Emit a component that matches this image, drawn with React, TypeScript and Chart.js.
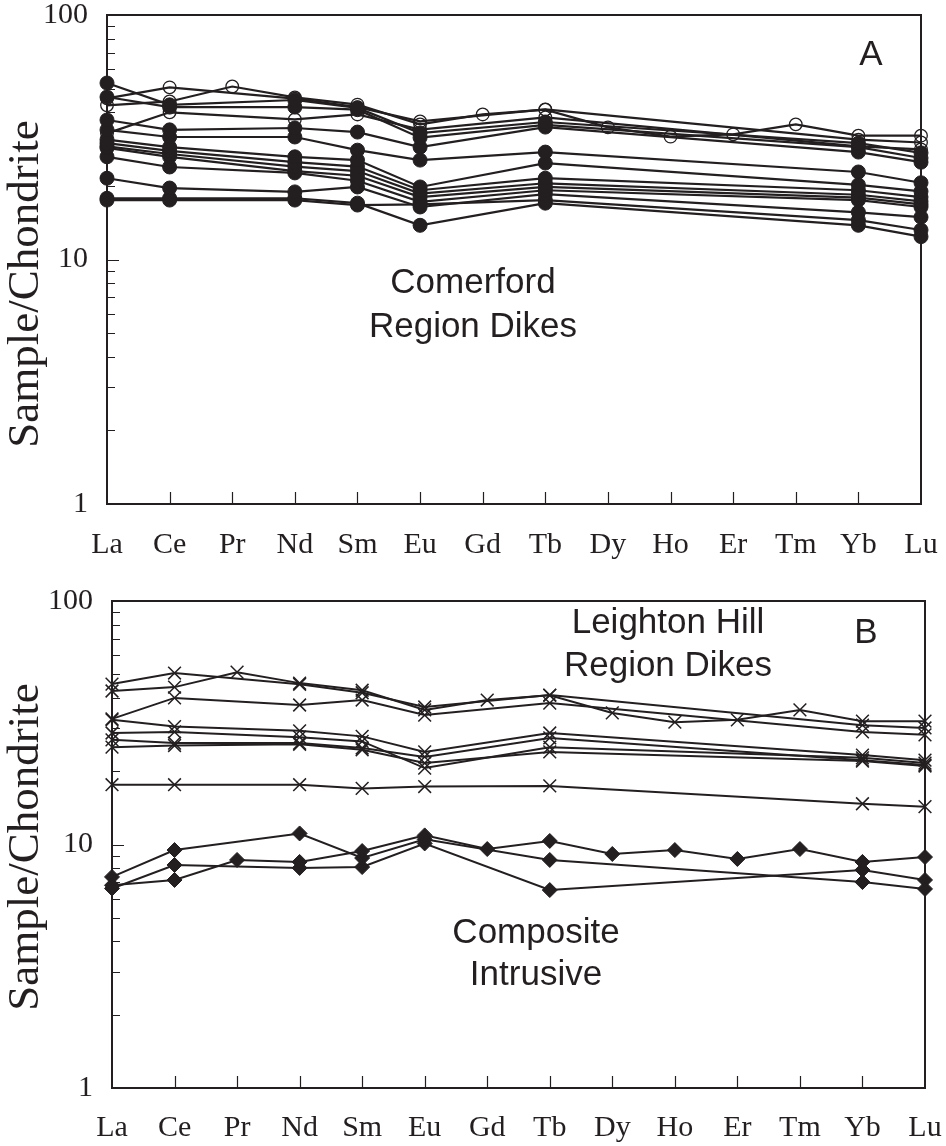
import React, { useEffect, useRef } from 'react';
import { Chart, registerables } from 'chart.js';

Chart.register(...registerables);

const INK = '#231f20';
const SERIF = '"Liberation Serif", "Times New Roman", serif';
const SANS = '"Liberation Sans", Arial, sans-serif';

const ELEMENTS = ['La', 'Ce', 'Pr', 'Nd', 'Sm', 'Eu', 'Gd', 'Tb', 'Dy', 'Ho', 'Er', 'Tm', 'Yb', 'Lu'];
// elements analysed for the partial (8-element) samples
const SPARSE = ['La', 'Ce', 'Nd', 'Sm', 'Eu', 'Tb', 'Yb', 'Lu'];
const Y_TICKS = [1, 10, 100];

// Panel A – Comerford region dikes (filled circles): La, Ce, Nd, Sm, Eu, Tb, Yb, Lu
const comerford1 = [52.7, 42.9, 44.9, 41.7, 32.9, 36.5, 29.9, 27.3];
const comerford2 = [46.2, 42.0, 42.0, 41.0, 31.5, 35.5, 28.8, 26.0];
const comerford3 = [37.2, 33.9, 34.5, 33.2, 28.8, 34.8, 27.5, 25.0];
const comerford4 = [33.9, 31.7, 31.7, 28.0, 25.5, 27.5, 22.8, 20.6];
const comerford5 = [30.9, 28.8, 26.3, 25.5, 19.8, 24.8, 20.2, 19.0];
const comerford6 = [29.9, 27.8, 25.0, 24.0, 19.2, 21.5, 19.2, 18.0];
const comerford7 = [29.0, 27.0, 24.0, 23.0, 18.6, 20.5, 18.4, 17.3];
const comerford8 = [28.6, 26.3, 23.0, 22.0, 18.0, 19.8, 17.9, 16.8];
const comerford9 = [26.3, 23.9, 22.6, 21.0, 17.2, 19.2, 17.5, 16.4];
const comerford10 = [21.5, 19.6, 18.9, 19.8, 16.4, 18.5, 15.6, 14.9];
const comerford11 = [17.5, 17.5, 17.5, 16.7, 16.8, 17.5, 14.5, 13.2];
const comerford12 = [17.8, 17.8, 17.8, 17.0, 13.8, 17.0, 13.8, 12.4];

// Leighton Hill region dikes (crosses in B; first three also open circles in A)
const leighton1 = [42.7, 44.3, 51.0, 46.0, 43.0, 35.7, 39.2, 41.0, 34.7, 31.8, 32.5, 35.7, 32.1, 32.1];
const leighton2 = [45.6, 50.6, 45.5, 42.0, 36.7, 41.1, 30.9, 30.1];
const leighton3 = [32.8, 40.0, 37.4, 39.2, 34.0, 38.1, 29.0, 28.2];
const leighton4 = [32.5, 30.5, 29.3, 27.8, 24.0, 28.7, 23.3, 22.2];
const leighton5 = [28.7, 29.0, 27.6, 26.5, 20.6, 25.1, 22.7, 21.6];
const leighton6 = [26.9, 26.1, 26.1, 24.9, 22.9, 27.4, 22.2, 21.2];
const leighton7 = [25.1, 25.5, 25.8, 24.5, 21.6, 24.0, 22.0, 21.0];
const leighton8 = [17.6, 17.6, 17.6, 17.0, 17.3, 17.4, 14.7, 14.3];

// Composite intrusive (filled diamonds in B)
const composite1 = [6.8, 7.15, 8.64, 8.48, 9.4, 10.9, 9.58, 10.34, 9.14, 9.49, 8.72, 9.58, 8.48, 8.88];
const composite2 = [7.36, 9.49, 11.1, 8.8, 10.5, 8.64, 7.01, 6.57];
const composite3 = [6.6, 8.24, 8.01, 8.08, 10.1, 6.5, 7.86, 7.15];

function expand(vals: number[]): (number | null)[] {
  if (vals.length === ELEMENTS.length) return vals;
  return ELEMENTS.map((e) => {
    const i = SPARSE.indexOf(e);
    return i < 0 ? null : vals[i];
  });
}

const baseLine = {
  borderColor: INK,
  borderWidth: 2.2,
  spanGaps: true,
  clip: false,
  tension: 0,
};

function filledCircle(vals: number[]) {
  return { ...baseLine, data: expand(vals), pointStyle: 'circle', pointRadius: 7, pointHoverRadius: 7,
    pointBackgroundColor: INK, pointBorderColor: INK, pointBorderWidth: 1, order: 0 };
}
function openCircle(vals: number[]) {
  return { ...baseLine, data: expand(vals), pointStyle: 'circle', pointRadius: 6.3, pointHoverRadius: 6.3,
    pointBackgroundColor: 'rgba(255,255,255,0)', pointBorderColor: INK, pointBorderWidth: 1.3, order: 1 };
}
function cross(vals: number[]) {
  return { ...baseLine, borderWidth: 2, data: expand(vals), pointStyle: 'crossRot', pointRadius: 9, pointHoverRadius: 9,
    pointBackgroundColor: INK, pointBorderColor: INK, pointBorderWidth: 1.5, order: 0 };
}
function diamond(vals: number[]) {
  return { ...baseLine, borderWidth: 2, data: expand(vals), pointStyle: 'rectRot', pointRadius: 7.5, pointHoverRadius: 7.5,
    pointBackgroundColor: INK, pointBorderColor: INK, pointBorderWidth: 1, order: 0 };
}

type Note = { text: string; x: number; y: number; font: string; rotate?: number };

const TICK_FONT = `30px ${SERIF}`;

function makeDecor(notes: Note[], labelCenterY: number) {
  return {
    id: 'decor',
    beforeDatasetsDraw(chart: any) {
      const { ctx, chartArea: a } = chart;
      const ys = chart.scales.y;
      const xs = chart.scales.x;
      ctx.save();
      ctx.strokeStyle = INK;
      ctx.lineWidth = 2;
      ctx.strokeRect(a.left, a.top, a.right - a.left, a.bottom - a.top);
      ctx.lineWidth = 1.2;
      ctx.beginPath();
      for (const d of [1, 10]) {
        for (let m = 1; m <= 9; m++) {
          const v = d * m;
          if (v === 1) continue;
          const py = Math.round(ys.getPixelForValue(v)) + 0.5;
          const len = m === 1 ? 12 : 8;
          ctx.moveTo(a.left, py);
          ctx.lineTo(a.left + len, py);
        }
      }
      for (let i = 1; i < ELEMENTS.length - 1; i++) {
        const px = Math.round(xs.getPixelForValue(i)) + 0.5;
        ctx.moveTo(px, a.bottom);
        ctx.lineTo(px, a.bottom - 12);
      }
      ctx.stroke();

      // tick labels
      ctx.fillStyle = INK;
      ctx.font = TICK_FONT;
      ctx.textAlign = 'right';
      ctx.textBaseline = 'middle';
      for (const v of Y_TICKS) {
        ctx.fillText(String(v), a.left - 19, ys.getPixelForValue(v));
      }
      ctx.textAlign = 'center';
      ELEMENTS.forEach((e, i) => {
        ctx.fillText(e, xs.getPixelForValue(i), labelCenterY);
      });
      ctx.restore();
    },
    afterDraw(chart: any) {
      const { ctx } = chart;
      for (const t of notes) {
        ctx.save();
        ctx.fillStyle = INK;
        ctx.font = t.font;
        ctx.textAlign = 'center';
        ctx.textBaseline = 'alphabetic';
        ctx.translate(t.x, t.y);
        if (t.rotate) ctx.rotate(t.rotate);
        ctx.fillText(t.text, 0, 0);
        ctx.restore();
      }
    },
  };
}

function makeConfig(datasets: any[], p: { yW: number; padR: number; padT: number; xH: number; labY: number }, notes: Note[]) {
  return {
    type: 'line',
    data: { labels: ELEMENTS, datasets },
    options: {
      animation: false,
      responsive: false,
      maintainAspectRatio: false,
      events: [],
      layout: { padding: { left: 0, right: p.padR, top: p.padT, bottom: 0 } },
      plugins: { legend: { display: false }, tooltip: { enabled: false } },
      scales: {
        x: {
          type: 'category',
          offset: false,
          grid: { display: false, drawTicks: false },
          border: { display: false },
          ticks: { display: false, autoSkip: false },
          afterFit: (s: any) => { s.height = p.xH; },
        },
        y: {
          type: 'logarithmic',
          min: 1,
          max: 100,
          grid: { display: false, drawTicks: false },
          border: { display: false },
          ticks: { display: false },
          afterBuildTicks: (s: any) => { s.ticks = Y_TICKS.map((v) => ({ value: v })); },
          afterFit: (s: any) => { s.width = p.yW; },
        },
      },
    },
    plugins: [makeDecor(notes, p.labY)],
  };
}

const TITLE_FONT = `45px ${SERIF}`;
const NOTE_FONT = `35px ${SANS}`;

export default function App() {
  const refA = useRef<HTMLCanvasElement>(null);
  const refB = useRef<HTMLCanvasElement>(null);

  useEffect(() => {
    const dsA = [
      ...[comerford1, comerford2, comerford3, comerford4, comerford5, comerford6, comerford7, comerford8,
        comerford9, comerford10, comerford11, comerford12].map(filledCircle),
      ...[leighton1, leighton2, leighton3].map(openCircle),
    ];
    const dsB = [
      ...[leighton1, leighton2, leighton3, leighton4, leighton5, leighton6, leighton7, leighton8].map(cross),
      ...[composite1, composite2, composite3].map(diamond),
    ];
    const notesA: Note[] = [
      { text: 'Sample/Chondrite', x: 38, y: 284, font: TITLE_FONT, rotate: -Math.PI / 2 },
      { text: 'Comerford', x: 473, y: 293, font: NOTE_FONT },
      { text: 'Region Dikes', x: 473, y: 337, font: NOTE_FONT },
      { text: 'A', x: 871, y: 65, font: NOTE_FONT },
    ];
    const notesB: Note[] = [
      { text: 'Sample/Chondrite', x: 38, y: 275, font: TITLE_FONT, rotate: -Math.PI / 2 },
      { text: 'Leighton Hill', x: 668, y: 61, font: NOTE_FONT },
      { text: 'Region Dikes', x: 668, y: 104, font: NOTE_FONT },
      { text: 'B', x: 866, y: 71, font: NOTE_FONT },
      { text: 'Composite', x: 536, y: 371, font: NOTE_FONT },
      { text: 'Intrusive', x: 536, y: 413, font: NOTE_FONT },
    ];
    const chartA = new Chart(refA.current as any, makeConfig(dsA, { yW: 107, padR: 25, padT: 15, xH: 68, labY: 545 }, notesA) as any);
    const chartB = new Chart(refB.current as any, makeConfig(dsB, { yW: 112, padR: 21, padT: 29, xH: 58, labY: 556 }, notesB) as any);
    return () => {
      chartA.destroy();
      chartB.destroy();
    };
  }, []);

  return (
    <div style={{ position: 'absolute', left: 0, top: 0, width: 946, height: 1146, background: '#fff' }}>
      <canvas ref={refA} width={946} height={572} style={{ position: 'absolute', left: 0, top: 0, width: 946, height: 572 }} />
      <canvas ref={refB} width={946} height={574} style={{ position: 'absolute', left: 0, top: 572, width: 946, height: 574 }} />
    </div>
  );
}
